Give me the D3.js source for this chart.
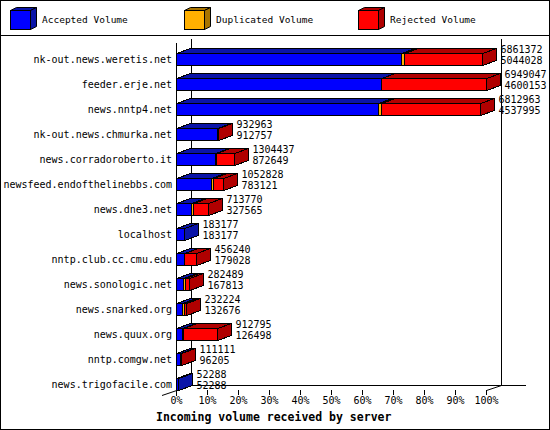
<!DOCTYPE html>
<html>
<head>
<meta charset="utf-8">
<script src="https://cdn.jsdelivr.net/npm/d3@7"></script>
<style>
body { margin: 0; background: #fff; }
svg text { font-family: "DejaVu Sans Mono", monospace; fill: #000; }
</style>
</head>
<body>
<svg id="chart" width="550" height="430"></svg>
<script>
var categories = ["nk-out.news.weretis.net","feeder.erje.net","news.nntp4.net","nk-out.news.chmurka.net",
  "news.corradoroberto.it","newsfeed.endofthelinebbs.com","news.dne3.net","localhost",
  "nntp.club.cc.cmu.edu","news.sonologic.net","news.snarked.org","news.quux.org",
  "nntp.comgw.net","news.trigofacile.com"];
var totals = [6861372,6949047,6812963,932963,1304437,1052828,713770,183177,456240,282489,232224,912795,111111,52288];
var accepted = [5044028,4600153,4537995,912757,872649,783121,327565,183177,179028,167813,132676,126498,96205,52288];
var duplicated = [60000,0,65000,0,30000,45000,55000,0,0,40000,45000,40000,0,0];
var rejected = [1757344,2348894,2209968,20206,401788,224707,331205,0,277212,74676,54548,746297,14906,0];
var seriesNames = ["Accepted Volume","Duplicated Volume","Rejected Volume"];
var frontColors = ["#0000ff","#ffb000","#ff0000"];
var darkColors = ["#0a14a8","#a87400","#b00000"];
var tickValues = [0,0.1,0.2,0.3,0.4,0.5,0.6,0.7,0.8,0.9,1];

var svg = d3.select("#chart");
var W = 550, H = 430;
var dx = 14, dy = -5;

// frame
svg.append("rect").attr("x",0.5).attr("y",0.5).attr("width",W-1).attr("height",H-1)
  .attr("fill","none").attr("stroke","#000");
svg.append("line").attr("x1",0).attr("x2",W).attr("y1",35.5).attr("y2",35.5).attr("stroke","#000");

// legend
var legendX = [10,184,358];
seriesNames.forEach(function(name,i){
  var g = svg.append("g").attr("transform","translate("+legendX[i]+",10)");
  g.append("path").attr("d","M0.5,0.5 L6.5,-2.5 L26.5,-2.5 L20.5,0.5 Z").attr("fill",darkColors[i]).attr("stroke","#000");
  g.append("path").attr("d","M20.5,0.5 L26.5,-2.5 L26.5,16.5 L20.5,19.5 Z").attr("fill",darkColors[i]).attr("stroke","#000");
  g.append("rect").attr("x",0.5).attr("y",0.5).attr("width",20).attr("height",19)
    .attr("fill",frontColors[i]).attr("stroke","#000");
  g.append("text").attr("x",32).attr("y",10).attr("dy","0.35em")
    .style("font-size","9.5px").text(name);
});

var x = d3.scaleLinear().domain([0,1]).range([176,486]);
var y = d3.scalePoint().domain(categories).range([59,384]);
var maxTotal = d3.max(totals);

// back walls
var wall = svg.append("g").attr("stroke","#000").attr("shape-rendering","crispEdges");
wall.append("line").attr("x1",x(0)+15.5).attr("x2",x(0)+15.5).attr("y1",39).attr("y2",385);
wall.append("line").attr("x1",x(1)+15.5).attr("x2",x(1)+15.5).attr("y1",39).attr("y2",385);
wall.append("line").attr("x1",x(0)+15).attr("x2",526).attr("y1",385.5).attr("y2",385.5);
svg.append("line").attr("x1",x(0)+15.5).attr("y1",385.5).attr("x2",x(0)-14).attr("y2",395.5).attr("stroke","#000");
svg.append("line").attr("x1",x(1)+15.5).attr("y1",385.5).attr("x2",x(1)+0.5).attr("y2",390.5).attr("stroke","#000");
svg.append("line").attr("x1",x(0)+0.5).attr("x2",x(0)+0.5).attr("y1",43).attr("y2",396)
  .attr("stroke","#000").attr("shape-rendering","crispEdges");

// bars
var bars = svg.append("g").attr("stroke","#000").attr("shape-rendering","crispEdges");
categories.forEach(function(cat,i){
  var vals = [accepted[i],duplicated[i],rejected[i]];
  var yt = y(cat) - 6 + 0.5, yb = y(cat) + 6 + 0.5;
  var cum = 0, lastIdx = 0;
  var segs = [];
  vals.forEach(function(v,k){
    if (v <= 0) return;
    var x0 = Math.round(x(cum/maxTotal)) + 0.5;
    cum += v;
    var x1 = Math.round(x(cum/maxTotal)) + 0.5;
    segs.push({x0:x0,x1:x1,k:k});
    lastIdx = k;
  });
  segs.forEach(function(s){
    bars.append("path")
      .attr("d","M"+s.x0+","+yt+"L"+(s.x0+dx)+","+(yt+dy)+"L"+(s.x1+dx)+","+(yt+dy)+"L"+s.x1+","+yt+"Z")
      .attr("fill",darkColors[s.k]);
    bars.append("rect").attr("x",s.x0).attr("y",yt).attr("width",s.x1-s.x0).attr("height",yb-yt)
      .attr("fill",frontColors[s.k]);
  });
  var xe = segs[segs.length-1].x1;
  bars.append("path")
    .attr("d","M"+xe+","+yt+"L"+(xe+dx)+","+(yt+dy)+"L"+(xe+dx)+","+(yb+dy)+"L"+xe+","+yb+"Z")
    .attr("fill",darkColors[lastIdx]);

  var lx = xe + dx + 4;
  svg.append("text").attr("x",lx).attr("y",y(cat)-10).attr("dy","0.35em")
    .style("font-size","10px").text(totals[i]);
  svg.append("text").attr("x",lx).attr("y",y(cat)+1).attr("dy","0.35em")
    .style("font-size","10px").text(accepted[i]);
});

// category labels
svg.append("g").selectAll("text").data(categories).enter().append("text")
  .attr("x",172).attr("y",function(d){ return y(d); }).attr("dy","0.35em")
  .attr("text-anchor","end").style("font-size","10px").text(function(d){ return d; });

// x axis
var axis = svg.append("g").attr("transform","translate(0,390)")
  .call(d3.axisBottom(x).tickValues(tickValues).tickSize(5).tickPadding(2).tickFormat(d3.format(".0%")));
axis.select(".domain").remove();
axis.selectAll("line").attr("stroke","#000").attr("shape-rendering","crispEdges");
axis.selectAll("text").attr("font-family",null).attr("font-size",null)
  .style("font-size","10px").style("font-family","'DejaVu Sans Mono', monospace");

svg.append("text").attr("x",156).attr("y",417).attr("dy","0.35em")
  .style("font-size","11.5px").style("font-weight","bold").text("Incoming volume received by server");
</script>
</body>
</html>
